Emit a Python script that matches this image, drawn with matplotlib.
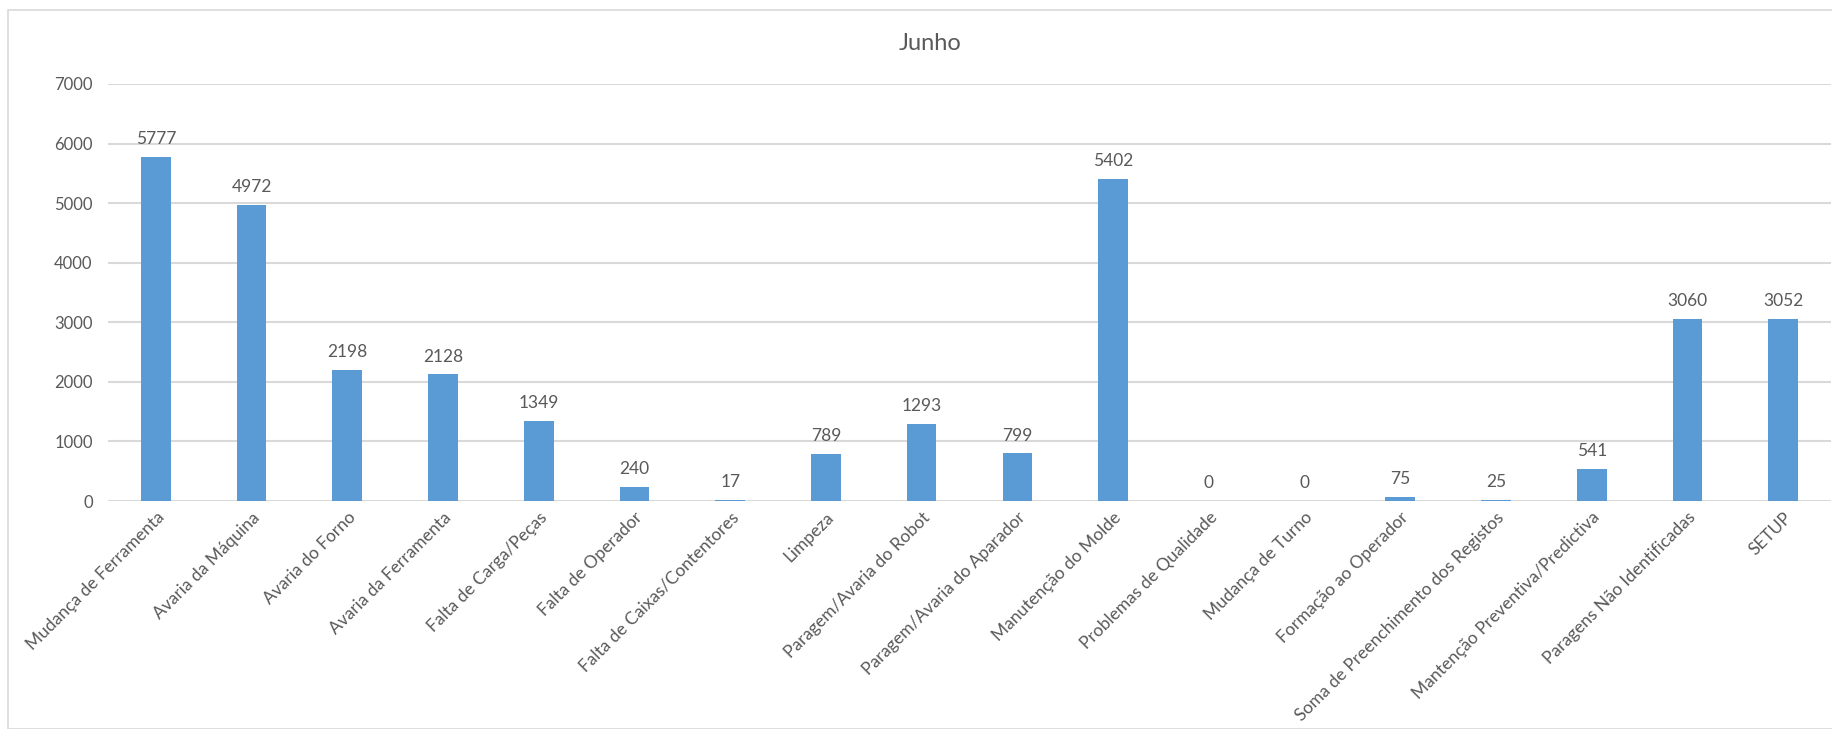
import matplotlib
matplotlib.use("Agg")
import matplotlib.pyplot as plt
from matplotlib.patches import Rectangle
import numpy as np

plt.rcParams['font.family'] = ['Lato', 'DejaVu Sans']

categorias = [
    "Mudança de Ferramenta", "Avaria da Máquina", "Avaria do Forno",
    "Avaria da Ferramenta", "Falta de Carga/Peças", "Falta de Operador",
    "Falta de Caixas/Contentores", "Limpeza", "Paragem/Avaria do Robot",
    "Paragem/Avaria do Aparador", "Manutenção do Molde", "Problemas de Qualidade",
    "Mudança de Turno", "Formação ao Operador", "Soma de Preenchimento dos Registos",
    "Mantenção Preventiva/Predictiva", "Paragens Não Identificadas", "SETUP",
]
minutos = [5777, 4972, 2198, 2128, 1349, 240, 17, 789, 1293, 799,
           5402, 0, 0, 75, 25, 541, 3060, 3052]
yticks = [0, 1000, 2000, 3000, 4000, 5000, 6000, 7000]

cinza = '#595959'
azul = '#5b9bd5'

W, H = 1832, 729
fig = plt.figure(figsize=(W / 100, H / 100), dpi=100)

# moldura do gráfico (cortada à direita e em baixo)
fig.patches.append(Rectangle((8 / W, 0), 1.2, 1 - 10 / H, transform=fig.transFigure,
                             fill=False, edgecolor='#d9d9d9', linewidth=1.2))

ax = fig.add_axes([108 / W, 1 - 501 / H, (1831 - 108) / W, (501 - 84) / H])

x = np.arange(len(categorias))
ax.bar(x, minutos, width=0.31, color=azul, zorder=3)

ax.set_xlim(-0.5, len(categorias) - 0.5)
ax.set_ylim(0, 7000)
ax.set_yticks(yticks)
ax.set_yticklabels([str(v) for v in yticks])
ax.yaxis.grid(True, color='#d9d9d9', linewidth=1.5, zorder=0)
ax.set_axisbelow(True)
for s in ax.spines.values():
    s.set_visible(False)
ax.tick_params(axis='y', length=0, pad=11, labelsize=12, labelcolor=cinza)
ax.tick_params(axis='x', length=0, pad=6)

ax.set_xticks(x)
ax.set_xticklabels(categorias, rotation=45, ha='right', va='top',
                   rotation_mode='anchor', fontsize=12.5, color=cinza)

for xi, v in zip(x, minutos):
    ax.annotate(str(v), (xi, v), xytext=(0, 7), textcoords='offset points',
                ha='center', va='bottom', fontsize=12.5, color=cinza)

fig.text(930 / W, 1 - 43 / H, "Junho", ha='center', va='center',
         fontsize=17, color=cinza)

fig.savefig("out.png", dpi=100)
